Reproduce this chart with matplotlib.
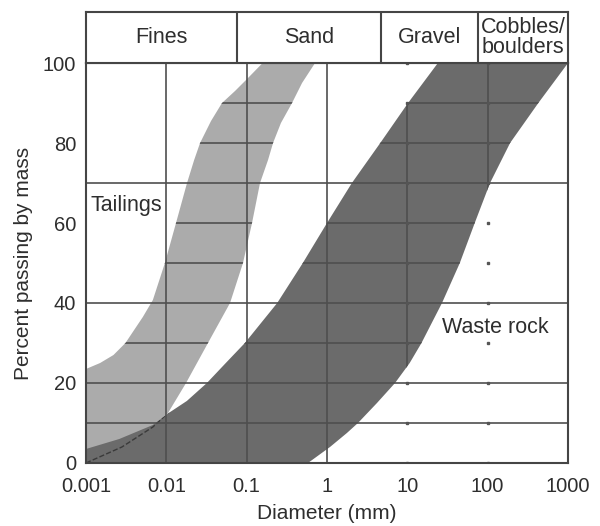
import numpy as np
import matplotlib
matplotlib.use('Agg')
import matplotlib.pyplot as plt
from matplotlib.patches import Polygon

plt.rcParams.update({'font.family': 'Liberation Sans', 'font.size': 14})

# grain size bands (diameter in mm, percent passing)
tail_upper_d = [0.001, 0.0015, 0.0022, 0.0031, 0.0039, 0.0051, 0.0068, 0.0096,
                0.0132, 0.0181, 0.0222, 0.0263, 0.036, 0.0493, 0.0716, 0.101, 0.158]
tail_upper_p = [23.5, 25, 27, 30, 33, 36.5, 40.75, 50,
                60, 70, 75.75, 80, 85.5, 90, 93, 96, 100]
tail_lower_d = [0.001, 0.0028, 0.0068, 0.0105, 0.0176, 0.033, 0.0621, 0.090,
                0.1166, 0.1466, 0.1845, 0.213, 0.267, 0.367, 0.489, 0.71]
tail_lower_p = [0, 4, 9, 12.5, 20, 30, 40, 50,
                60, 70, 75.75, 80, 85, 90, 95, 100]

waste_upper_d = [0.001, 0.0026, 0.0068, 0.0107, 0.018, 0.032, 0.055, 0.095, 0.24, 0.5,
                 1.0, 2.04, 4.6, 10.2, 24]
waste_upper_p = [3.5, 6, 9.5, 12.5, 15.5, 20, 25, 30, 40, 50,
                 60, 70, 80, 90, 100]
waste_lower_d = [0.58, 1.09, 1.77, 2.43, 4.19, 7.03, 10.7, 15, 27, 45,
                 69, 107, 190, 427, 1000]
waste_lower_p = [0, 4, 7.5, 10, 15, 20, 25, 30, 40, 50,
                 60, 70, 80, 90, 100]

x_ticks = [0.001, 0.01, 0.1, 1, 10, 100, 1000]
x_labels = ['0.001', '0.01', '0.1', '1', '10', '100', '1000']
y_ticks = [0, 20, 40, 60, 80, 100]

# soil classes across the top
class_names = ['Fines', 'Sand', 'Gravel', 'Cobbles/\nboulders']
class_edges = [0.001, 0.075, 4.75, 75, 1000]

grid_full_y = [10, 20, 40, 70]
grid_part_y = [30, 50, 60, 80, 90]
grid_full_x = [0.01, 0.1, 1]
grid_part_x = [10, 100]

edge = '#454545'
gridc = '#4f4f4f'
textc = '#2e2e2e'

fig = plt.figure(figsize=(6, 5.26), dpi=100)
ax = fig.add_axes([0.1433, 0.1198, 0.8034, 0.7604])
ax.set_xscale('log')
ax.set_xlim(0.001, 1000)
ax.set_ylim(0, 100)

tail_xy = list(zip(tail_lower_d, tail_lower_p)) + list(zip(tail_upper_d, tail_upper_p))[::-1]
tail = Polygon(tail_xy, closed=True, facecolor='#ababab', edgecolor='none', zorder=1)
ax.add_patch(tail)

waste_xy = [(0.001, 0)] + list(zip(waste_lower_d, waste_lower_p)) + \
    list(zip(waste_upper_d, waste_upper_p))[::-1]
waste = Polygon(waste_xy, closed=True, facecolor='#6b6b6b', edgecolor='none', zorder=2)
ax.add_patch(waste)

# tailings lower edge hidden under the waste rock band
ln, = ax.plot(tail_lower_d, tail_lower_p, ls='--', color='#3a3a3a', lw=1, zorder=3)
ln.set_clip_path(waste)

for y in grid_full_y:
    ax.axhline(y, color=gridc, lw=1.2, zorder=4)
for x in grid_full_x:
    ax.axvline(x, color=gridc, lw=1.2, zorder=4)
for band in (tail, waste):
    for y in grid_part_y:
        l = ax.axhline(y, color=gridc, lw=1.2, zorder=4)
        l.set_clip_path(band)
    for x in grid_part_x:
        l = ax.axvline(x, color=gridc, lw=1.2, zorder=4)
        l.set_clip_path(band)
for x in grid_part_x:
    ax.plot([x] * 11, np.arange(0, 101, 10), ls='none', marker='s', ms=1.6,
            color='#555555', zorder=4)

ax.set_xticks(x_ticks)
ax.set_xticklabels(x_labels)
ax.xaxis.set_minor_locator(matplotlib.ticker.NullLocator())
ax.set_yticks(y_ticks)
ax.tick_params(length=0, pad=7, labelcolor=textc, labelsize=14.5)
ax.tick_params(axis='x', pad=10)
for s in ax.spines.values():
    s.set_color(edge)
    s.set_linewidth(1.5)
    s.set_zorder(5)

ax.set_ylabel('Percent passing by mass', color=textc, fontsize=15, labelpad=7)
ax.set_xlabel('Diameter (mm)', color=textc, fontsize=15, labelpad=6)

ax.text(0.00115, 64.5, 'Tailings', ha='left', va='center', color=textc, fontsize=15.5, zorder=6)
ax.text(27, 33.75, 'Waste rock', ha='left', va='center', color=textc, fontsize=15.5, zorder=6)

# header with the class names
hx = fig.add_axes([0.1433, 0.8802, 0.8034, 0.097])
hx.set_xscale('log')
hx.set_xlim(0.001, 1000)
hx.set_ylim(0, 1)
hx.set_xticks([])
hx.set_yticks([])
hx.xaxis.set_minor_locator(matplotlib.ticker.NullLocator())
for s in hx.spines.values():
    s.set_color(edge)
    s.set_linewidth(1.5)
for x in class_edges[1:-1]:
    hx.axvline(x, color=edge, lw=1.5)
for i, name in enumerate(class_names):
    xc = np.sqrt(class_edges[i] * class_edges[i + 1])
    hx.text(xc, 0.5, name, ha='center', va='center', color=textc, fontsize=15.5,
            linespacing=0.95)

fig.savefig('out.png', dpi=100, facecolor='white')
